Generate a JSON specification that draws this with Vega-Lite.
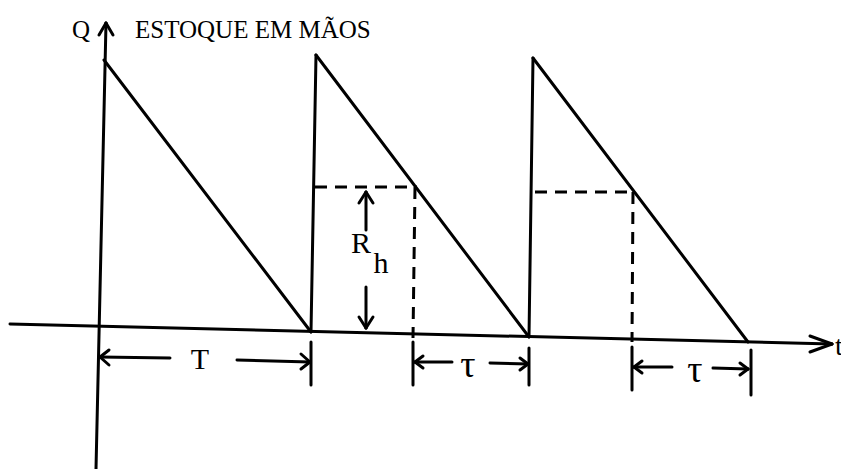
{
  "$schema": "https://vega.github.io/schema/vega-lite/v6.json",
  "width": 841,
  "height": 469,
  "autosize": "none",
  "padding": 0,
  "background": "white",
  "config": {"view": {"stroke": null}},
  "datasets": {
    "segs": [
      {"part": "eixo", "t1": 8, "q1": 307, "t2": -2, "q2": -139},
      {"part": "eixo", "t1": -88, "q1": 6, "t2": 734, "q2": -14},
      {"part": "eixo", "t1": 1, "q1": 295, "t2": 8, "q2": 307},
      {"part": "eixo", "t1": 15, "q1": 295, "t2": 8, "q2": 307},
      {"part": "eixo", "t1": 712, "q1": -6, "t2": 734, "q2": -14},
      {"part": "eixo", "t1": 712, "q1": -22, "t2": 734, "q2": -14},
      {"part": "estoque", "t1": 6, "q1": 270, "t2": 213, "q2": -2},
      {"part": "estoque", "t1": 213, "q1": -2, "t2": 218, "q2": 275},
      {"part": "estoque", "t1": 218, "q1": 275, "t2": 431, "q2": -7},
      {"part": "estoque", "t1": 431, "q1": -7, "t2": 435, "q2": 272},
      {"part": "estoque", "t1": 435, "q1": 272, "t2": 650, "q2": -12},
      {"part": "cota", "t1": 213, "q1": -12, "t2": 213, "q2": -55},
      {"part": "cota", "t1": 315, "q1": -12, "t2": 315, "q2": -55},
      {"part": "cota", "t1": 431, "q1": -18, "t2": 431, "q2": -55},
      {"part": "cota", "t1": 534, "q1": -17, "t2": 534, "q2": -60},
      {"part": "cota", "t1": 653, "q1": -20, "t2": 653, "q2": -65},
      {"part": "cota", "t1": 2, "q1": -27, "t2": 72, "q2": -28},
      {"part": "cota", "t1": 2, "q1": -27, "t2": 11, "q2": -20},
      {"part": "cota", "t1": 2, "q1": -27, "t2": 11, "q2": -35},
      {"part": "cota", "t1": 139, "q1": -30, "t2": 212, "q2": -32},
      {"part": "cota", "t1": 212, "q1": -32, "t2": 203, "q2": -24},
      {"part": "cota", "t1": 212, "q1": -32, "t2": 203, "q2": -39},
      {"part": "cota", "t1": 317, "q1": -32, "t2": 354, "q2": -32},
      {"part": "cota", "t1": 317, "q1": -32, "t2": 325, "q2": -26},
      {"part": "cota", "t1": 317, "q1": -32, "t2": 325, "q2": -38},
      {"part": "cota", "t1": 392, "q1": -33, "t2": 430, "q2": -34},
      {"part": "cota", "t1": 430, "q1": -34, "t2": 422, "q2": -28},
      {"part": "cota", "t1": 430, "q1": -34, "t2": 422, "q2": -40},
      {"part": "cota", "t1": 536, "q1": -37, "t2": 574, "q2": -37},
      {"part": "cota", "t1": 536, "q1": -37, "t2": 544, "q2": -31},
      {"part": "cota", "t1": 536, "q1": -37, "t2": 544, "q2": -43},
      {"part": "cota", "t1": 615, "q1": -38, "t2": 650, "q2": -39},
      {"part": "cota", "t1": 650, "q1": -39, "t2": 642, "q2": -33},
      {"part": "cota", "t1": 650, "q1": -39, "t2": 642, "q2": -45},
      {"part": "cota", "t1": 268, "q1": 138, "t2": 268, "q2": 100},
      {"part": "cota", "t1": 268, "q1": 138, "t2": 261, "q2": 127},
      {"part": "cota", "t1": 268, "q1": 138, "t2": 275, "q2": 127},
      {"part": "cota", "t1": 268, "q1": 43, "t2": 268, "q2": 2},
      {"part": "cota", "t1": 268, "q1": 2, "t2": 261, "q2": 13},
      {"part": "cota", "t1": 268, "q1": 2, "t2": 275, "q2": 13},
      {"part": "nivel", "t1": 217, "q1": 143, "t2": 319, "q2": 143},
      {"part": "nivel", "t1": 317, "q1": 143, "t2": 315, "q2": -8},
      {"part": "nivel", "t1": 437, "q1": 138, "t2": 535, "q2": 138},
      {"part": "nivel", "t1": 535, "q1": 138, "t2": 534, "q2": -12}
    ],
    "titulo": [
      {"label": "Q", "t": -26, "q": 300},
      {"label": "ESTOQUE EM MÃOS", "t": 37, "q": 300}
    ],
    "anot": [
      {"label": "T", "t": 102, "q": -30},
      {"label": "R", "t": 263, "q": 86},
      {"label": "h", "t": 283, "q": 66}
    ],
    "tau": [
      {"label": "τ", "t": 370, "q": -36},
      {"label": "τ", "t": 597, "q": -41}
    ],
    "eixo_t": [
      {"label": "t", "t": 737, "q": -17}
    ]
  },
  "layer": [
    {
      "data": {"name": "segs"},
      "transform": [{"filter": "datum.part != 'nivel'"}],
      "mark": {"type": "rule", "color": "#000", "strokeWidth": 3, "strokeCap": "round"},
      "encoding": {
        "x": {"field": "t1", "type": "quantitative", "scale": {"domain": [-98, 743], "nice": false, "zero": false}, "axis": null},
        "y": {"field": "q1", "type": "quantitative", "scale": {"domain": [-139, 330], "nice": false, "zero": false}, "axis": null},
        "x2": {"field": "t2"},
        "y2": {"field": "q2"}
      }
    },
    {
      "data": {"name": "segs"},
      "transform": [{"filter": "datum.part == 'nivel'"}],
      "mark": {"type": "rule", "color": "#000", "strokeWidth": 3, "strokeDash": [12, 8]},
      "encoding": {
        "x": {"field": "t1", "type": "quantitative", "scale": {"domain": [-98, 743], "nice": false, "zero": false}, "axis": null},
        "y": {"field": "q1", "type": "quantitative", "scale": {"domain": [-139, 330], "nice": false, "zero": false}, "axis": null},
        "x2": {"field": "t2"},
        "y2": {"field": "q2"}
      }
    },
    {
      "data": {"name": "titulo"},
      "mark": {"type": "text", "font": "Liberation Serif", "fontSize": 25, "align": "left", "baseline": "middle", "color": "#000"},
      "encoding": {
        "x": {"field": "t", "type": "quantitative", "scale": {"domain": [-98, 743], "nice": false, "zero": false}, "axis": null},
        "y": {"field": "q", "type": "quantitative", "scale": {"domain": [-139, 330], "nice": false, "zero": false}, "axis": null},
        "text": {"field": "label"}
      }
    },
    {
      "data": {"name": "anot"},
      "mark": {"type": "text", "font": "Liberation Serif", "fontSize": 30, "align": "center", "baseline": "middle", "color": "#000"},
      "encoding": {
        "x": {"field": "t", "type": "quantitative", "scale": {"domain": [-98, 743], "nice": false, "zero": false}, "axis": null},
        "y": {"field": "q", "type": "quantitative", "scale": {"domain": [-139, 330], "nice": false, "zero": false}, "axis": null},
        "text": {"field": "label"}
      }
    },
    {
      "data": {"name": "tau"},
      "mark": {"type": "text", "font": "Liberation Serif", "fontSize": 38, "align": "center", "baseline": "middle", "color": "#000"},
      "encoding": {
        "x": {"field": "t", "type": "quantitative", "scale": {"domain": [-98, 743], "nice": false, "zero": false}, "axis": null},
        "y": {"field": "q", "type": "quantitative", "scale": {"domain": [-139, 330], "nice": false, "zero": false}, "axis": null},
        "text": {"field": "label"}
      }
    },
    {
      "data": {"name": "eixo_t"},
      "mark": {"type": "text", "font": "Liberation Serif", "fontSize": 28, "align": "left", "baseline": "middle", "color": "#000"},
      "encoding": {
        "x": {"field": "t", "type": "quantitative", "scale": {"domain": [-98, 743], "nice": false, "zero": false}, "axis": null},
        "y": {"field": "q", "type": "quantitative", "scale": {"domain": [-139, 330], "nice": false, "zero": false}, "axis": null},
        "text": {"field": "label"}
      }
    }
  ]
}
